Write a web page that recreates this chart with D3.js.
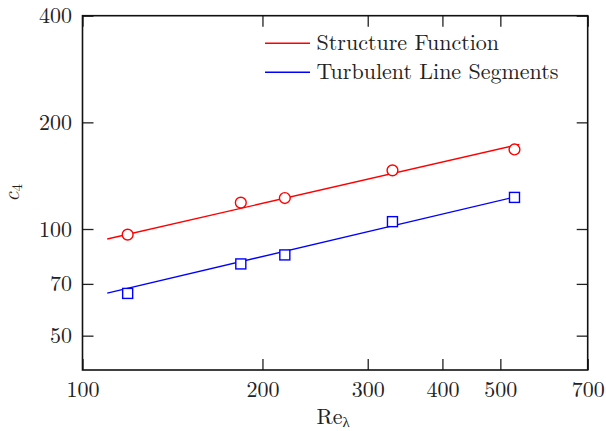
<!DOCTYPE html>
<html>
<head>
<meta charset="utf-8">
<script src="https://cdn.jsdelivr.net/npm/d3@7"></script>
<style>
  body { margin: 0; background: #fff; }
</style>
</head>
<body>
<div id="chart"></div>
<script>
// data
const reLambda = [119, 184, 218, 330, 528];
const structureFunction = [96.4, 118.7, 122.3, 146.4, 167.7];
const lineSegments = [65.8, 79.7, 84.5, 104.9, 122.8];

// power-law fit lines (end points)
const fitX = [110, 538];
const structureFit = [93.7, 173.3];
const segmentFit = [65.9, 124];

const xTicks = [100, 200, 300, 400, 500, 700];
const yTicks = [50, 70, 100, 200, 400];
const legendLabels = ["Structure Function", "Turbulent Line Segments"];
const colors = ["#ff0000", "#0000ff"];

const FONT = '"Latin Modern Roman", "Liberation Serif", serif';
const MARGIN = {top: 15.7, right: 18.3, bottom: 61, left: 82.5};
const W = 606, H = 431;
const width = W - MARGIN.left - MARGIN.right;
const height = H - MARGIN.top - MARGIN.bottom;

const svg = d3.select("#chart").append("svg")
    .attr("width", W)
    .attr("height", H);

const g = svg.append("g")
    .attr("transform", `translate(${MARGIN.left},${MARGIN.top})`);

const x = d3.scaleLog().domain([100, 700]).range([0, width]);
const y = d3.scaleLog().domain([40, 400]).range([height, 0]);

const TICK = 11;

// bottom axis with labels, ticks pointing inward
g.append("g")
    .attr("transform", `translate(0,${height})`)
    .call(d3.axisBottom(x).tickValues(xTicks).tickFormat(d3.format("d"))
        .tickSizeInner(-TICK).tickSizeOuter(0).tickPadding(11))
    .call(a => a.select(".domain").remove());

// top axis, ticks only
g.append("g")
    .call(d3.axisTop(x).tickValues(xTicks).tickFormat("")
        .tickSizeInner(-TICK).tickSizeOuter(0))
    .call(a => a.select(".domain").remove());

// left axis with labels
g.append("g")
    .call(d3.axisLeft(y).tickValues(yTicks).tickFormat(d3.format("d"))
        .tickSizeInner(-TICK).tickSizeOuter(0).tickPadding(10.5))
    .call(a => a.select(".domain").remove());

// right axis, ticks only
g.append("g")
    .attr("transform", `translate(${width},0)`)
    .call(d3.axisRight(y).tickValues(yTicks).tickFormat("")
        .tickSizeInner(-TICK).tickSizeOuter(0))
    .call(a => a.select(".domain").remove());

g.selectAll(".tick line").attr("stroke", "#222").attr("stroke-width", 1.3);
g.selectAll(".tick text")
    .attr("font-family", null)
    .style("font-family", FONT)
    .style("font-size", "22px")
    .attr("fill", "#222");

// frame
g.append("rect")
    .attr("width", width)
    .attr("height", height)
    .attr("fill", "none")
    .attr("stroke", "#111")
    .attr("stroke-width", 1.6);

// fit lines
const line = d3.line().x(d => x(d[0])).y(d => y(d[1]));
const fits = [structureFit, segmentFit];
fits.forEach((f, i) => {
    g.append("path")
        .datum(fitX.map((v, j) => [v, f[j]]))
        .attr("fill", "none")
        .attr("stroke", colors[i])
        .attr("stroke-width", 1.4)
        .attr("d", line);
});

// circles for structure function
g.selectAll(".circ")
    .data(reLambda.map((v, i) => [v, structureFunction[i]]))
    .enter().append("circle")
    .attr("class", "circ")
    .attr("cx", d => x(d[0]))
    .attr("cy", d => y(d[1]))
    .attr("r", 5.4)
    .attr("fill", "#fff")
    .attr("stroke", colors[0])
    .attr("stroke-width", 1.4);

// squares for line segments
const S = 10;
g.selectAll(".sq")
    .data(reLambda.map((v, i) => [v, lineSegments[i]]))
    .enter().append("rect")
    .attr("class", "sq")
    .attr("x", d => x(d[0]) - S / 2)
    .attr("y", d => y(d[1]) - S / 2)
    .attr("width", S)
    .attr("height", S)
    .attr("fill", "#fff")
    .attr("stroke", colors[1])
    .attr("stroke-width", 1.4);

// legend
const legend = g.append("g").attr("transform", `translate(${265 - MARGIN.left},${43.3 - MARGIN.top})`);
legendLabels.forEach((lab, i) => {
    const row = legend.append("g").attr("transform", `translate(0,${i * 29})`);
    row.append("line")
        .attr("x1", 0).attr("x2", 45)
        .attr("stroke", colors[i])
        .attr("stroke-width", 1.4);
    row.append("text")
        .attr("x", 51.5)
        .attr("y", 6.5)
        .style("font-family", FONT)
        .style("font-size", "22px")
        .attr("fill", "#222")
        .text(lab);
});

// axis titles
const xt = svg.append("text")
    .attr("x", MARGIN.left + width / 2 - 2)
    .attr("y", 424)
    .attr("text-anchor", "middle")
    .style("font-family", FONT)
    .style("font-size", "22px")
    .attr("fill", "#222");
xt.append("tspan").text("Re");
xt.append("tspan").attr("dy", 3).style("font-size", "15px").text("λ");

const yt = svg.append("text")
    .attr("transform", `translate(19,${MARGIN.top + height / 2}) rotate(-90)`)
    .attr("text-anchor", "middle")
    .style("font-family", FONT)
    .style("font-size", "22px")
    .attr("fill", "#222");
yt.append("tspan").style("font-style", "italic").text("c");
yt.append("tspan").attr("dy", 3).style("font-size", "15px").text("4");
</script>
</body>
</html>
